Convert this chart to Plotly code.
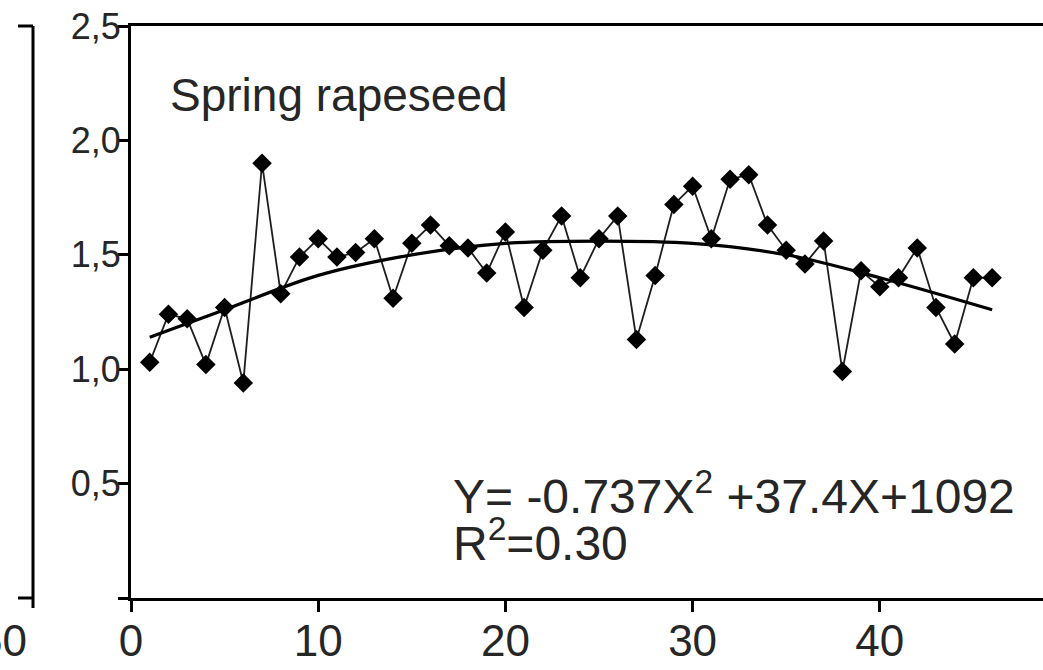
import plotly.graph_objects as go

# --- data ---
years = list(range(1, 47))
yield_vals = [1.03, 1.24, 1.22, 1.02, 1.27, 0.94, 1.90, 1.33, 1.49, 1.57,
              1.49, 1.51, 1.57, 1.31, 1.55, 1.63, 1.54, 1.53, 1.42, 1.60,
              1.27, 1.52, 1.67, 1.40, 1.57, 1.67, 1.13, 1.41, 1.72, 1.80,
              1.57, 1.83, 1.85, 1.63, 1.52, 1.46, 1.56, 0.99, 1.43, 1.36,
              1.40, 1.53, 1.27, 1.11, 1.40, 1.40]

trend_x = [1, 5, 10, 15, 20, 25, 30, 35, 40, 46]
trend_y = [1.14, 1.26, 1.41, 1.50, 1.55, 1.56, 1.55, 1.50, 1.40, 1.26]

y_tickvals = [0, 0.5, 1.0, 1.5, 2.0, 2.5]
y_ticktext = ["", "0,5", "1,0", "1,5", "2,0", "2,5"]
x_tickvals = [0, 10, 20, 30, 40, 50]
x_ticktext = ["0", "10", "20", "30", "40", "50"]

title_text = "Spring rapeseed"
eq_text = "Y= -0.737X<sup>2</sup> +37.4X+1092"
r2_text = "R<sup>2</sup>=0.30"
neighbor_label = "50"

W, H = 1043, 670
ML, MT, MB, MR = 131, 26, 72, 0
plot_w = W - ML - MR
x_max = plot_w / 18.72

fig = go.Figure()

fig.add_trace(go.Scatter(
    x=years, y=yield_vals, mode="lines+markers",
    line=dict(color="#1e1e1e", width=1.8),
    marker=dict(symbol="diamond", size=15, color="black"),
    showlegend=False, cliponaxis=False))

fig.add_trace(go.Scatter(
    x=trend_x, y=trend_y, mode="lines",
    line=dict(color="black", width=3.2, shape="spline", smoothing=1.0),
    showlegend=False))

txt_color = "#262626"
tick_font_y = dict(family="Liberation Sans, Arial, sans-serif", size=36, color=txt_color)
tick_font_x = dict(family="Liberation Sans, Arial, sans-serif", size=44, color=txt_color)

fig.update_layout(
    width=W, height=H,
    margin=dict(l=ML, r=MR, t=MT, b=MB, pad=0),
    paper_bgcolor="white", plot_bgcolor="white",
    xaxis=dict(range=[0, x_max], tickvals=x_tickvals, ticktext=x_ticktext,
               automargin=False, ticklabelstandoff=-9,
               showline=True, linecolor="black", linewidth=3, mirror=True,
               ticks="outside", ticklen=11, tickwidth=2.5, tickcolor="black",
               showgrid=False, zeroline=False, tickfont=tick_font_x),
    yaxis=dict(range=[0, 2.5], tickvals=y_tickvals, ticktext=y_ticktext,
               automargin=False, ticklabelstandoff=-10,
               showline=True, linecolor="black", linewidth=3, mirror=False,
               ticks="outside", ticklen=10, tickwidth=2.5, tickcolor="black",
               showgrid=False, zeroline=False, tickfont=tick_font_y),
)

# annotations
ann_font = dict(family="Liberation Sans, Arial, sans-serif", size=46, color=txt_color)
fig.add_annotation(x=2.0, y=2.2, xref="x", yref="y", text=title_text,
                   showarrow=False, xanchor="left", yanchor="middle", font=ann_font)
fig.add_annotation(x=17.1, y=0.46, xref="x", yref="y", text=eq_text,
                   showarrow=False, xanchor="left", yanchor="middle",
                   font=dict(ann_font, size=48))
fig.add_annotation(x=17.1, y=0.255, xref="x", yref="y", text=r2_text,
                   showarrow=False, xanchor="left", yanchor="middle",
                   font=dict(ann_font, size=48))

# neighbouring (cropped) panel on the left
px = lambda p: (p - ML) / plot_w
py = lambda p: (H - MB - p) / (H - MT - MB)
nb_x = px(33)
fig.add_shape(type="line", xref="paper", yref="paper", x0=nb_x, x1=nb_x,
              y0=py(608), y1=1, line=dict(color="black", width=3))
fig.add_shape(type="line", xref="paper", yref="paper", x0=px(18), x1=nb_x,
              y0=1, y1=1, line=dict(color="black", width=3))
fig.add_shape(type="line", xref="paper", yref="paper", x0=px(18), x1=nb_x,
              y0=0, y1=0, line=dict(color="black", width=3))
fig.add_annotation(x=px(29), y=py(640), xref="paper", yref="paper", text=neighbor_label,
                   showarrow=False, xanchor="right", yanchor="middle",
                   font=tick_font_x)

fig.write_html("out.html", config={"displayModeBar": False},
               post_script="document.body.style.margin='0';document.body.style.padding='0';")
